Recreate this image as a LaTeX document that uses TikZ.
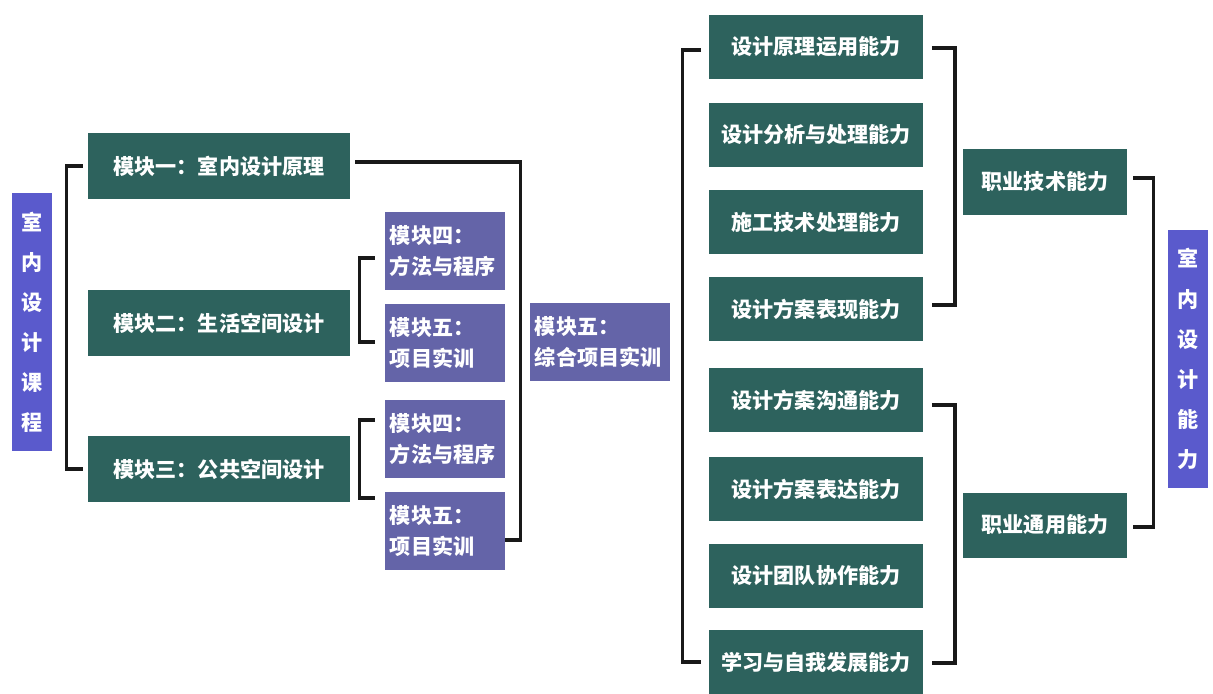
\documentclass[tikz,border=0pt]{standalone}
\usepackage{fontspec}
\usepackage{tikz}
\usetikzlibrary{calc}
\newfontfamily\cjk{Noto Sans CJK SC}
\definecolor{tealbox}{HTML}{2D625D}
\definecolor{violetbox}{HTML}{6464A8}
\definecolor{bluebox}{HTML}{5A5ACC}
\tikzset{
   box/.style={text=white, inner sep=0pt, font=\cjk\bfseries\fontsize{15}{22}\selectfont},
   course/.style={box, fill=bluebox, minimum width=1cm, minimum height=6.45cm,
      align=center, font=\cjk\bfseries\fontsize{15}{28.5}\selectfont},
   module/.style={box, fill=tealbox, minimum width=6.55cm, minimum height=1.65cm},
   project/.style={box, fill=violetbox, minimum width=3cm, minimum height=1.925cm,
      text width=2.75cm, align=left},
   ability/.style={box, fill=tealbox, minimum width=5.325cm, minimum height=1.6cm},
   job/.style={box, fill=tealbox, minimum width=4.1cm, minimum height=1.625cm},
   bracket/.style={draw=black!90, line width=2.4pt},
    }
\begin{document}
\begin{tikzpicture}[x=0.025cm,y=-0.025cm]
            \useasboundingbox (0,0) rectangle (1213,693);
            \node[course] (kc) at (32,322) {室\\内\\设\\计\\课\\程};
            \node[module] (m1) at (219,166) {模块一：室内设计原理};
            \node[module] (m2) at (219,323) {模块二：生活空间设计};
            \node[module] (m3) at (219,469) {模块三：公共空间设计};
            \node[project] (p1) at (445,251) {模块四：\\方法与程序};
            \node[project] (p2) at (445,343) {模块五：\\项目实训};
            \node[project] (p3) at (445,439) {模块四：\\方法与程序};
            \node[project] (p4) at (445,531) {模块五：\\项目实训};
            \node[project, minimum width=3.5cm, text width=3.25cm] (zh) at (600,342) {模块五：\\综合项目实训};
            \node[ability] (r1) at (816,47) {设计原理运用能力};
            \node[ability] (r2) at (816,135) {设计分析与处理能力};
            \node[ability] (r3) at (816,222) {施工技术处理能力};
            \node[ability] (r4) at (816,309) {设计方案表现能力};
            \node[ability] (r5) at (816,400) {设计方案沟通能力};
            \node[ability] (r6) at (816,489) {设计方案表达能力};
            \node[ability] (r7) at (816,576) {设计团队协作能力};
            \node[ability] (r8) at (816,662) {学习与自我发展能力};
            \node[job] (j1) at (1045,182) {职业技术能力};
            \node[job] (j2) at (1045,525) {职业通用能力};
            \node[course] (nl) at (1188,359) {室\\内\\设\\计\\能\\力};
            \draw[bracket] ($(m1.west)+(-5,0)$) -- ++(-16,0) |- ($(m3.west)+(-5,0)$);
            \draw[bracket] ($(p1.west)+(-10,7)$) -- ++(-15,0) |- ($(p2.west)+(-10,-1)$);
            \draw[bracket] ($(p3.west)+(-10,-19)$) -- ++(-15,0) |- ($(p4.west)+(-10,-33)$);
            \draw[bracket] ($(m1.east)+(5,-4)$) -| ($(p4.east)+(15,9)$) -- ($(p4.east)+(0,9)$);
            \draw[bracket] ($(r1.west)+(-8,3)$) -- ++(-19,0) |- ($(r8.west)+(-8,0)$);
            \draw[bracket] ($(r1.east)+(9,1)$) -- ++(23,0) |- ($(r4.east)+(9,-4)$);
            \draw[bracket] ($(r5.east)+(9,5)$) -- ++(23,0) |- ($(r8.east)+(9,1)$);
            \draw[bracket] ($(j1.east)+(6,-4)$) -- ++(20,0) |- ($(j2.east)+(6,2)$);
        \end{tikzpicture}
\end{document}
